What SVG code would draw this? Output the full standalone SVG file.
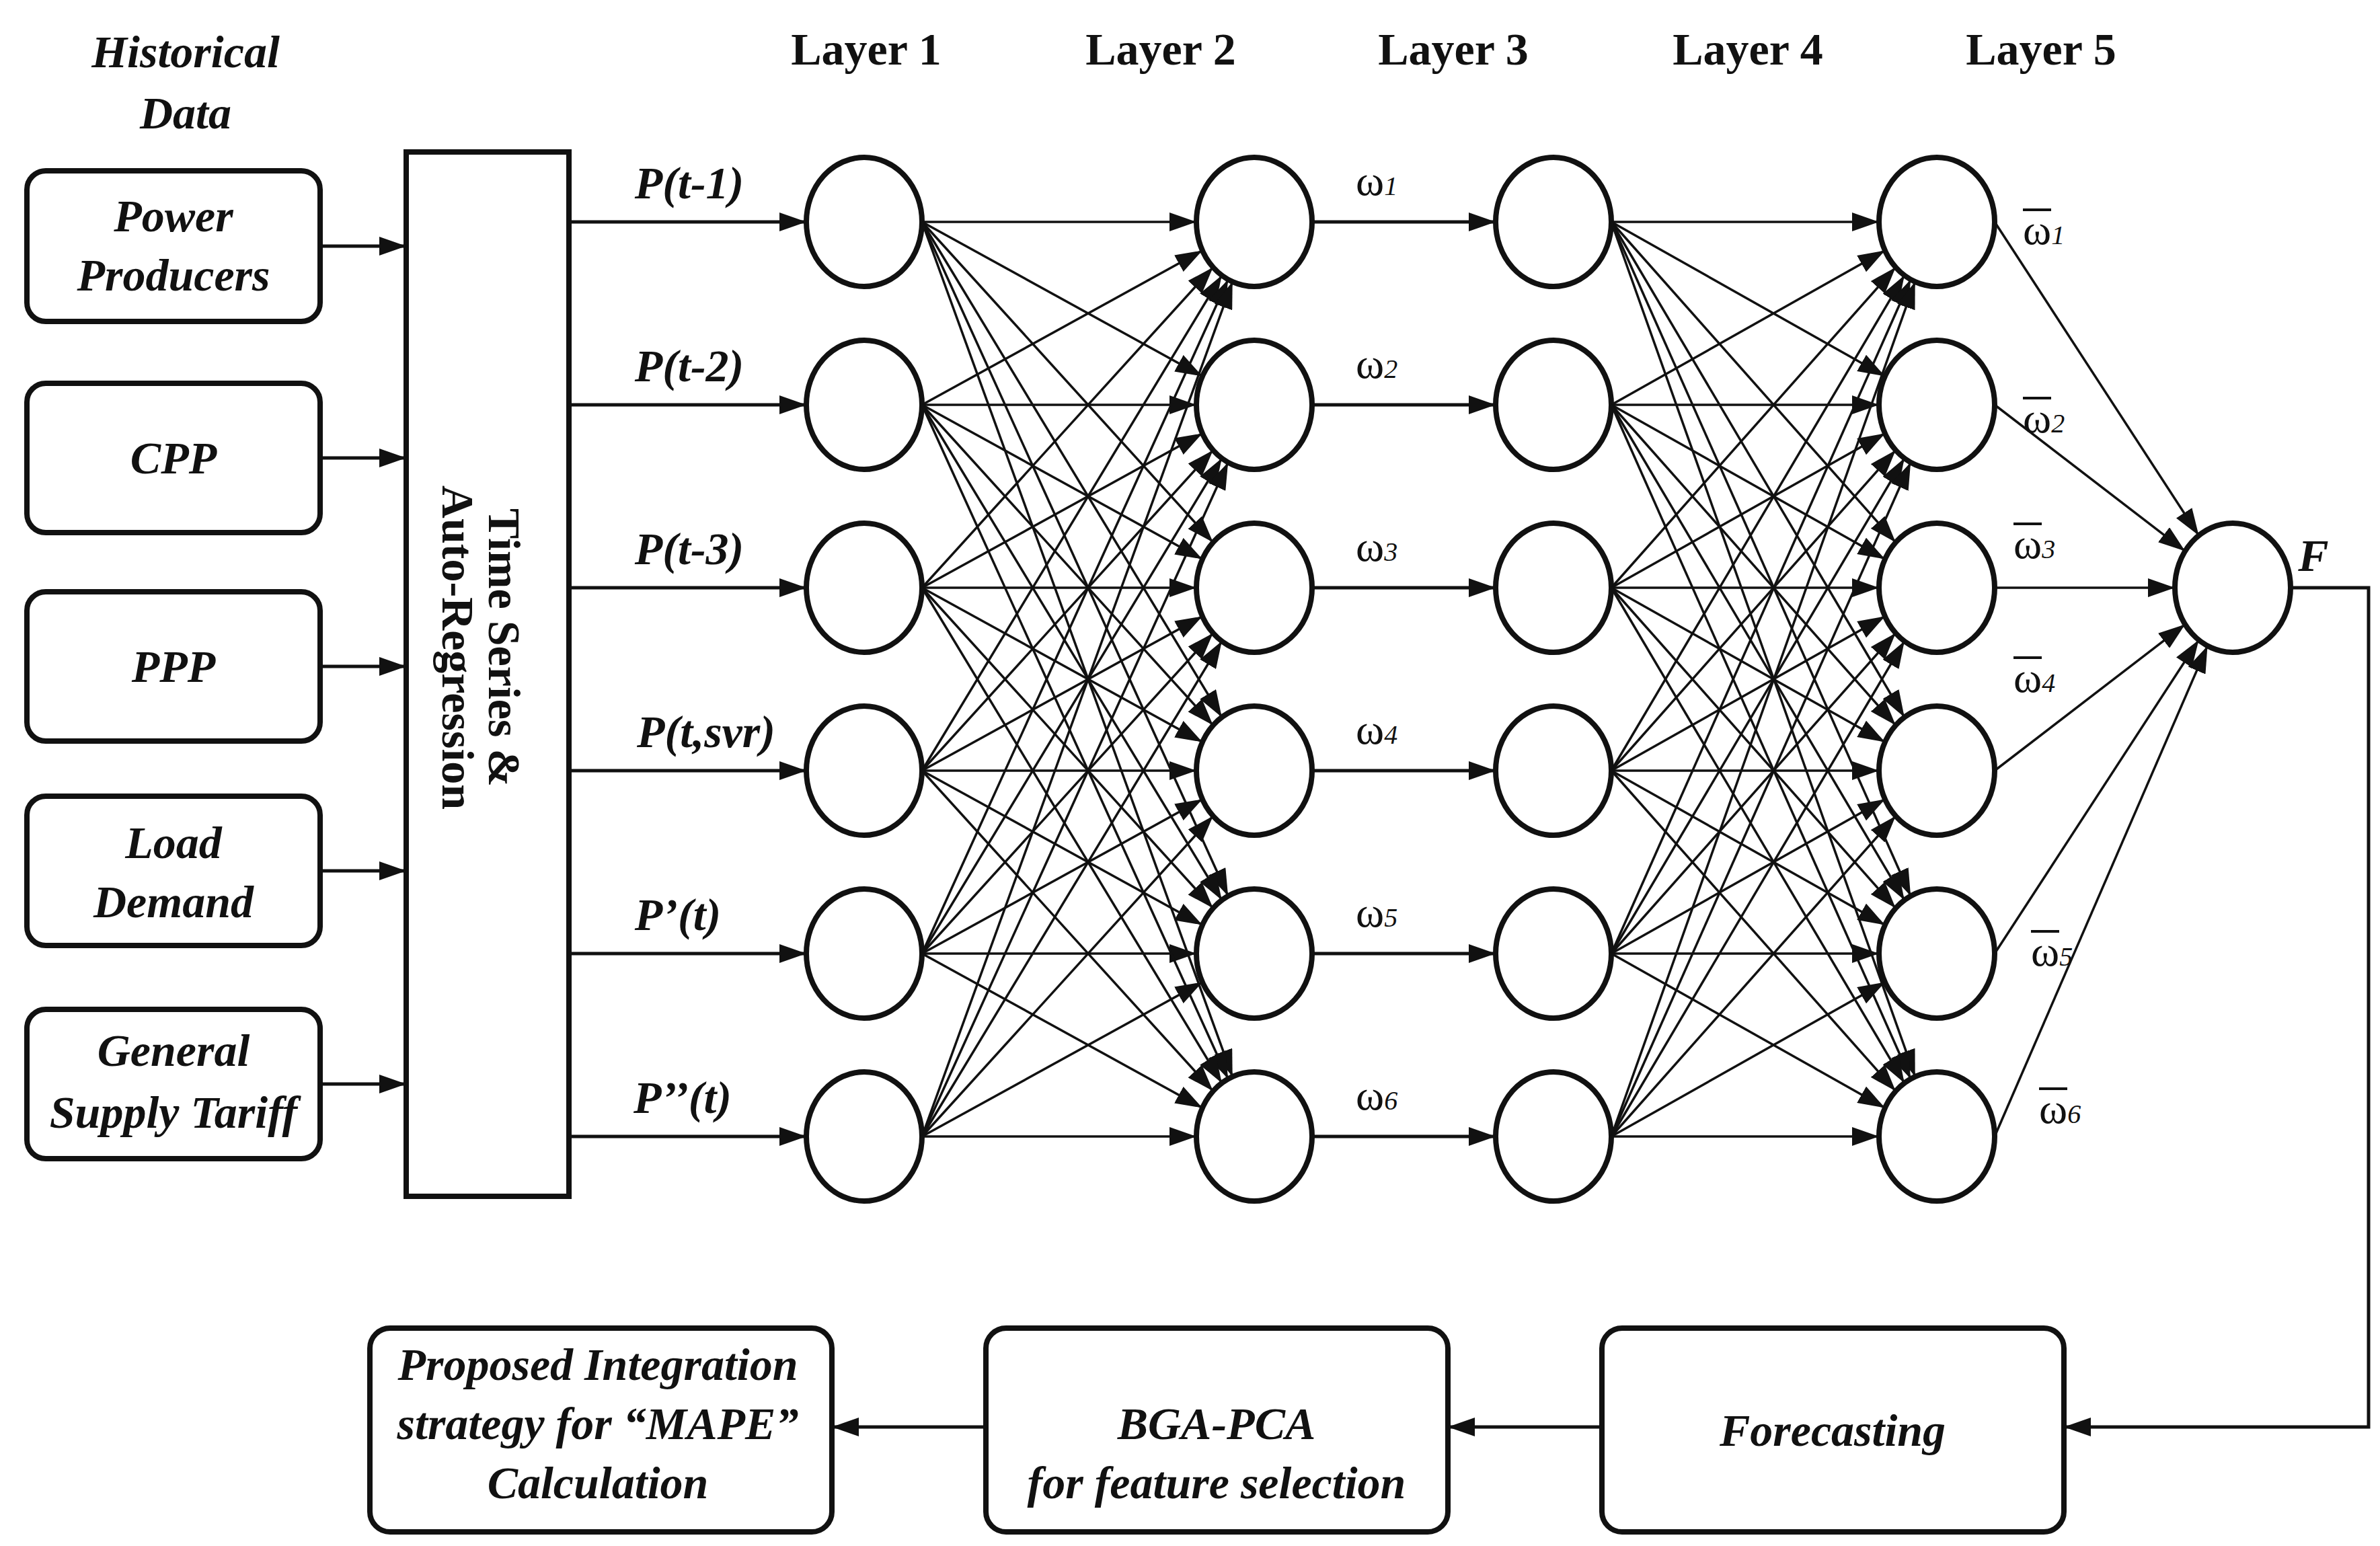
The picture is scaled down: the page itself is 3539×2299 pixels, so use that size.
<svg xmlns="http://www.w3.org/2000/svg" width="3539" height="2299" viewBox="0 0 3539 2299">
<style>
.bx{fill:#fff;stroke:#111;stroke-width:8}
.nd{fill:#fff;stroke:#111;stroke-width:8}
.c{stroke:#111;stroke-width:5;fill:none;marker-end:url(#ah)}
.m{stroke:#111;stroke-width:3.5;fill:none;marker-end:url(#ah)}
.t{font-family:"Liberation Serif",serif;font-weight:bold;font-style:italic;font-size:68px;fill:#111;text-anchor:middle}
.h{font-family:"Liberation Serif",serif;font-weight:bold;font-size:68px;fill:#111;text-anchor:middle}
.w{font-family:"Liberation Serif",serif;font-size:64px;fill:#111}
.s{font-size:40px;font-style:italic}
.ol{stroke:#111;stroke-width:4}
</style>
<defs>
<marker id="ah" viewBox="0 0 10 10" refX="10" refY="5" markerWidth="40" markerHeight="28" markerUnits="userSpaceOnUse" orient="auto" preserveAspectRatio="none"><path d="M0,0 L10,5 L0,10 z" fill="#111"/></marker>
</defs>
<rect width="3539" height="2299" fill="#fff"/>
<g id="titles">
<text class="t" x="276" y="100">Historical</text><text class="t" x="276" y="191">Data</text>
<text class="h" x="1288" y="96">Layer 1</text><text class="h" x="1726" y="96">Layer 2</text><text class="h" x="2161" y="96">Layer 3</text><text class="h" x="2599" y="96">Layer 4</text><text class="h" x="3035" y="96">Layer 5</text>
</g>
<g id="sources">
<rect class="bx" x="40" y="254" width="436" height="224" rx="28"/><text class="t" x="258" y="344">Power</text><text class="t" x="258" y="432">Producers</text>
<rect class="bx" x="40" y="570" width="436" height="222" rx="28"/><text class="t" x="258" y="704">CPP</text>
<rect class="bx" x="40" y="880" width="436" height="222" rx="28"/><text class="t" x="258" y="1014">PPP</text>
<rect class="bx" x="40" y="1184" width="436" height="222" rx="28"/><text class="t" x="258" y="1276">Load</text><text class="t" x="258" y="1364">Demand</text>
<rect class="bx" x="40" y="1501" width="436" height="222" rx="28"/><text class="t" x="258" y="1585">General</text><text class="t" x="258" y="1677">Supply Tariff</text>
</g>
<g id="ts">
<rect class="bx" x="604" y="226" width="242" height="1553"/>
<text class="h" transform="translate(727,963) rotate(90)">Time Series &amp;</text>
<text class="h" transform="translate(658,963) rotate(90)">Auto-Regression</text>
</g>
<g id="nodes">
<ellipse class="nd" cx="1285" cy="330" rx="86" ry="96"/><ellipse class="nd" cx="1285" cy="602" rx="86" ry="96"/><ellipse class="nd" cx="1285" cy="874" rx="86" ry="96"/><ellipse class="nd" cx="1285" cy="1146" rx="86" ry="96"/><ellipse class="nd" cx="1285" cy="1418" rx="86" ry="96"/><ellipse class="nd" cx="1285" cy="1690" rx="86" ry="96"/>
<ellipse class="nd" cx="1865" cy="330" rx="86" ry="96"/><ellipse class="nd" cx="1865" cy="602" rx="86" ry="96"/><ellipse class="nd" cx="1865" cy="874" rx="86" ry="96"/><ellipse class="nd" cx="1865" cy="1146" rx="86" ry="96"/><ellipse class="nd" cx="1865" cy="1418" rx="86" ry="96"/><ellipse class="nd" cx="1865" cy="1690" rx="86" ry="96"/>
<ellipse class="nd" cx="2310" cy="330" rx="86" ry="96"/><ellipse class="nd" cx="2310" cy="602" rx="86" ry="96"/><ellipse class="nd" cx="2310" cy="874" rx="86" ry="96"/><ellipse class="nd" cx="2310" cy="1146" rx="86" ry="96"/><ellipse class="nd" cx="2310" cy="1418" rx="86" ry="96"/><ellipse class="nd" cx="2310" cy="1690" rx="86" ry="96"/>
<ellipse class="nd" cx="2880" cy="330" rx="86" ry="96"/><ellipse class="nd" cx="2880" cy="602" rx="86" ry="96"/><ellipse class="nd" cx="2880" cy="874" rx="86" ry="96"/><ellipse class="nd" cx="2880" cy="1146" rx="86" ry="96"/><ellipse class="nd" cx="2880" cy="1418" rx="86" ry="96"/><ellipse class="nd" cx="2880" cy="1690" rx="86" ry="96"/>
<ellipse class="nd" cx="3320" cy="874" rx="86" ry="96"/>
</g>
<g id="bottom">
<rect class="bx" x="550" y="1975" width="687" height="303" rx="30"/><text class="t" x="889" y="2052">Proposed Integration</text><text class="t" x="889" y="2140">strategy for “MAPE”</text><text class="t" x="889" y="2228">Calculation</text>
<rect class="bx" x="1466" y="1975" width="687" height="303" rx="30"/><text class="t" x="1809" y="2140">BGA-PCA</text><text class="t" x="1809" y="2228">for feature selection</text>
<rect class="bx" x="2382" y="1975" width="687" height="303" rx="30"/><text class="t" x="2725" y="2150">Forecasting</text>
</g>
<g id="labels">
<text class="t" x="1025" y="295">P(t-1)</text><text class="t" x="1025" y="567">P(t-2)</text><text class="t" x="1025" y="839">P(t-3)</text><text class="t" x="1050" y="1111">P(t,svr)</text><text class="t" x="1008" y="1383">P’(t)</text><text class="t" x="1015" y="1655">P’’(t)</text>
<text class="w" x="2016" y="290">ω<tspan class="s">1</tspan></text><text class="w" x="2016" y="562">ω<tspan class="s">2</tspan></text><text class="w" x="2016" y="834">ω<tspan class="s">3</tspan></text><text class="w" x="2016" y="1106">ω<tspan class="s">4</tspan></text><text class="w" x="2016" y="1378">ω<tspan class="s">5</tspan></text><text class="w" x="2016" y="1650">ω<tspan class="s">6</tspan></text>
<text class="w" x="3008" y="363">ω<tspan class="s">1</tspan></text><line class="ol" x1="3008" y1="312" x2="3050" y2="312"/>
<text class="w" x="3008" y="643">ω<tspan class="s">2</tspan></text><line class="ol" x1="3008" y1="592" x2="3050" y2="592"/>
<text class="w" x="2994" y="830">ω<tspan class="s">3</tspan></text><line class="ol" x1="2994" y1="779" x2="3036" y2="779"/>
<text class="w" x="2994" y="1029">ω<tspan class="s">4</tspan></text><line class="ol" x1="2994" y1="978" x2="3036" y2="978"/>
<text class="w" x="3020" y="1436">ω<tspan class="s">5</tspan></text><line class="ol" x1="3020" y1="1385" x2="3062" y2="1385"/>
<text class="w" x="3032" y="1670">ω<tspan class="s">6</tspan></text><line class="ol" x1="3032" y1="1619" x2="3074" y2="1619"/>
<text class="t" x="3440" y="849">F</text>
</g>
<g id="connectors">
<line class="c" x1="476" y1="366" x2="604" y2="366"/><line class="c" x1="476" y1="681" x2="604" y2="681"/><line class="c" x1="476" y1="991" x2="604" y2="991"/><line class="c" x1="476" y1="1295" x2="604" y2="1295"/><line class="c" x1="476" y1="1612" x2="604" y2="1612"/>
<line class="c" x1="846" y1="330" x2="1199" y2="330"/><line class="c" x1="846" y1="602" x2="1199" y2="602"/><line class="c" x1="846" y1="874" x2="1199" y2="874"/><line class="c" x1="846" y1="1146" x2="1199" y2="1146"/><line class="c" x1="846" y1="1418" x2="1199" y2="1418"/><line class="c" x1="846" y1="1690" x2="1199" y2="1690"/>
<line class="c" x1="1951" y1="330" x2="2224" y2="330"/><line class="c" x1="1951" y1="602" x2="2224" y2="602"/><line class="c" x1="1951" y1="874" x2="2224" y2="874"/><line class="c" x1="1951" y1="1146" x2="2224" y2="1146"/><line class="c" x1="1951" y1="1418" x2="2224" y2="1418"/><line class="c" x1="1951" y1="1690" x2="2224" y2="1690"/>
<!-- L1 to L2 -->
<line class="m" x1="1371" y1="330" x2="1779" y2="330"/><line class="m" x1="1371" y1="602" x2="1787.9" y2="372.5"/><line class="m" x1="1371" y1="874" x2="1803.8" y2="397.4"/><line class="m" x1="1371" y1="1146" x2="1816.8" y2="409.5"/><line class="m" x1="1371" y1="1418" x2="1826.1" y2="415.7"/><line class="m" x1="1371" y1="1690" x2="1832.7" y2="418.9"/>
<line class="m" x1="1371" y1="330" x2="1787.9" y2="559.5"/><line class="m" x1="1371" y1="602" x2="1779" y2="602"/><line class="m" x1="1371" y1="874" x2="1787.9" y2="644.5"/><line class="m" x1="1371" y1="1146" x2="1803.8" y2="669.4"/><line class="m" x1="1371" y1="1418" x2="1816.8" y2="681.5"/><line class="m" x1="1371" y1="1690" x2="1826.1" y2="687.7"/>
<line class="m" x1="1371" y1="330" x2="1803.8" y2="806.6"/><line class="m" x1="1371" y1="602" x2="1787.9" y2="831.5"/><line class="m" x1="1371" y1="874" x2="1779" y2="874"/><line class="m" x1="1371" y1="1146" x2="1787.9" y2="916.5"/><line class="m" x1="1371" y1="1418" x2="1803.8" y2="941.4"/><line class="m" x1="1371" y1="1690" x2="1816.8" y2="953.5"/>
<line class="m" x1="1371" y1="330" x2="1816.8" y2="1066.5"/><line class="m" x1="1371" y1="602" x2="1803.8" y2="1078.6"/><line class="m" x1="1371" y1="874" x2="1787.9" y2="1103.5"/><line class="m" x1="1371" y1="1146" x2="1779" y2="1146"/><line class="m" x1="1371" y1="1418" x2="1787.9" y2="1188.5"/><line class="m" x1="1371" y1="1690" x2="1803.8" y2="1213.4"/>
<line class="m" x1="1371" y1="330" x2="1826.1" y2="1332.3"/><line class="m" x1="1371" y1="602" x2="1816.8" y2="1338.5"/><line class="m" x1="1371" y1="874" x2="1803.8" y2="1350.6"/><line class="m" x1="1371" y1="1146" x2="1787.9" y2="1375.5"/><line class="m" x1="1371" y1="1418" x2="1779" y2="1418"/><line class="m" x1="1371" y1="1690" x2="1787.9" y2="1460.5"/>
<line class="m" x1="1371" y1="330" x2="1832.7" y2="1601.1"/><line class="m" x1="1371" y1="602" x2="1826.1" y2="1604.3"/><line class="m" x1="1371" y1="874" x2="1816.8" y2="1610.5"/><line class="m" x1="1371" y1="1146" x2="1803.8" y2="1622.6"/><line class="m" x1="1371" y1="1418" x2="1787.9" y2="1647.5"/><line class="m" x1="1371" y1="1690" x2="1779" y2="1690"/>
<!-- L3 to L4 -->
<line class="m" x1="2396" y1="330" x2="2794" y2="330"/><line class="m" x1="2396" y1="602" x2="2802.9" y2="372.5"/><line class="m" x1="2396" y1="874" x2="2818.8" y2="397.4"/><line class="m" x1="2396" y1="1146" x2="2831.8" y2="409.5"/><line class="m" x1="2396" y1="1418" x2="2841.1" y2="415.7"/><line class="m" x1="2396" y1="1690" x2="2847.7" y2="418.9"/>
<line class="m" x1="2396" y1="330" x2="2802.9" y2="559.5"/><line class="m" x1="2396" y1="602" x2="2794" y2="602"/><line class="m" x1="2396" y1="874" x2="2802.9" y2="644.5"/><line class="m" x1="2396" y1="1146" x2="2818.8" y2="669.4"/><line class="m" x1="2396" y1="1418" x2="2831.8" y2="681.5"/><line class="m" x1="2396" y1="1690" x2="2841.1" y2="687.7"/>
<line class="m" x1="2396" y1="330" x2="2818.8" y2="806.6"/><line class="m" x1="2396" y1="602" x2="2802.9" y2="831.5"/><line class="m" x1="2396" y1="874" x2="2794" y2="874"/><line class="m" x1="2396" y1="1146" x2="2802.9" y2="916.5"/><line class="m" x1="2396" y1="1418" x2="2818.8" y2="941.4"/><line class="m" x1="2396" y1="1690" x2="2831.8" y2="953.5"/>
<line class="m" x1="2396" y1="330" x2="2831.8" y2="1066.5"/><line class="m" x1="2396" y1="602" x2="2818.8" y2="1078.6"/><line class="m" x1="2396" y1="874" x2="2802.9" y2="1103.5"/><line class="m" x1="2396" y1="1146" x2="2794" y2="1146"/><line class="m" x1="2396" y1="1418" x2="2802.9" y2="1188.5"/><line class="m" x1="2396" y1="1690" x2="2818.8" y2="1213.4"/>
<line class="m" x1="2396" y1="330" x2="2841.1" y2="1332.3"/><line class="m" x1="2396" y1="602" x2="2831.8" y2="1338.5"/><line class="m" x1="2396" y1="874" x2="2818.8" y2="1350.6"/><line class="m" x1="2396" y1="1146" x2="2802.9" y2="1375.5"/><line class="m" x1="2396" y1="1418" x2="2794" y2="1418"/><line class="m" x1="2396" y1="1690" x2="2802.9" y2="1460.5"/>
<line class="m" x1="2396" y1="330" x2="2847.7" y2="1601.1"/><line class="m" x1="2396" y1="602" x2="2841.1" y2="1604.3"/><line class="m" x1="2396" y1="874" x2="2831.8" y2="1610.5"/><line class="m" x1="2396" y1="1146" x2="2818.8" y2="1622.6"/><line class="m" x1="2396" y1="1418" x2="2802.9" y2="1647.5"/><line class="m" x1="2396" y1="1690" x2="2794" y2="1690"/>
<!-- L5 to output -->
<line class="m" x1="2966" y1="330" x2="3269.5" y2="796.3"/><line class="m" x1="2966" y1="602" x2="3249.2" y2="819.6"/><line class="m" x1="2966" y1="874" x2="3234" y2="874"/><line class="m" x1="2966" y1="1146" x2="3249.2" y2="928.4"/><line class="m" x1="2966" y1="1418" x2="3269.5" y2="951.7"/><line class="m" x1="2966" y1="1690" x2="3282.5" y2="960.4"/>
<polyline class="c" points="3406,874 3522,874 3522,2122 3069,2122"/>
<line class="c" x1="2382" y1="2122" x2="2153" y2="2122"/>
<line class="c" x1="1466" y1="2122" x2="1237" y2="2122"/>
</g>
</svg>
